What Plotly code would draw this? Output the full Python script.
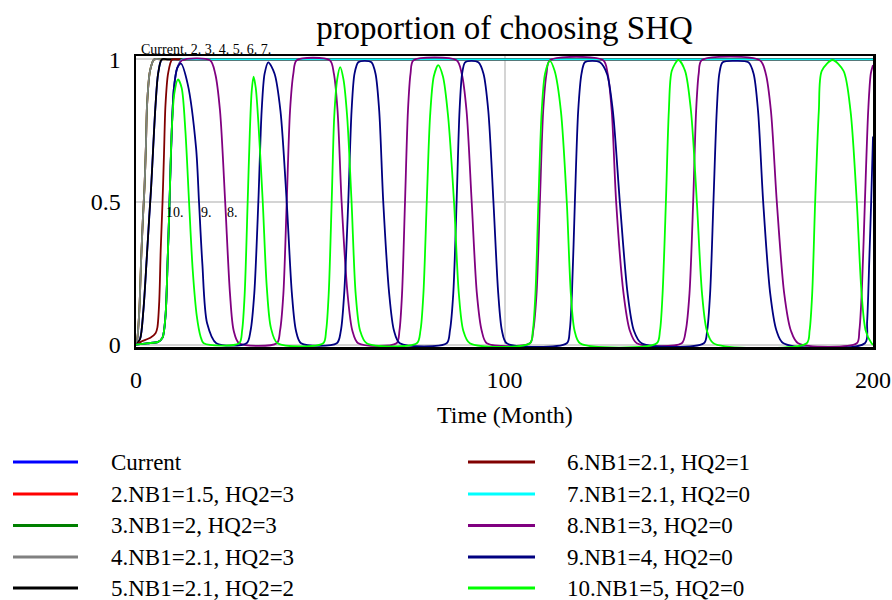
import plotly.graph_objects as go

# ---------------- text ----------------
title_text = "proportion of choosing SHQ"
x_title = "Time (Month)"
x_tickvals = [0, 100, 200]
x_ticktext = ["0", "100", "200"]
y_tickvals = [0, 0.5, 1]
y_ticktext = ["0", "0.5", "1"]

names = ["Current", "2.NB1=1.5, HQ2=3", "3.NB1=2, HQ2=3", "4.NB1=2.1, HQ2=3",
         "5.NB1=2.1, HQ2=2", "6.NB1=2.1, HQ2=1", "7.NB1=2.1, HQ2=0",
         "8.NB1=3, HQ2=0", "9.NB1=4, HQ2=0", "10.NB1=5, HQ2=0"]
colors = ["#0000FF", "#FF0000", "#008000", "#808080", "#000000",
          "#800000", "#00FFFF", "#800080", "#000080", "#00FF00"]

# ---------------- data ----------------
t_current = [0, 1.1, 2.0, 2.9, 3.6, 4.1, 4.7, 5.3, 6.0, 7.0, 9.0, 200]
v_current = [0, .02, .12, .3, .45, .55, .7, .84, .95, 1, 1, 1]

t_run2 = [0, .35, .9, 1.4, 1.9, 2.3, 2.7, 3.0, 3.8, 4.9, 7.0, 200]
v_run2 = [0, .02, .12, .3, .45, .55, .7, .84, .96, 1, 1, 1]

t_run3 = [0, .35, .9, 1.4, 1.9, 2.3, 2.7, 3.0, 3.8, 4.9, 7.0, 200]
v_run3 = [0, .02, .12, .3, .45, .55, .7, .84, .96, 1, 1, 1]

t_run4 = [0, .35, .9, 1.4, 1.9, 2.3, 2.7, 3.0, 3.8, 4.9, 7.0, 200]
v_run4 = [0, .02, .12, .3, .45, .55, .7, .84, .96, 1, 1, 1]

t_run5 = [0, 1.1, 2.0, 2.9, 3.6, 4.1, 4.7, 5.3, 6.0, 7.0, 9.0, 200]
v_run5 = [0, .02, .12, .3, .45, .55, .7, .84, .95, 1, 1, 1]

t_run6 = [0, 1.3, 4.0, 5.3, 5.8, 6.3, 6.7, 7.2, 7.6, 8.0, 8.7, 9.8, 11.5, 200]
v_run6 = [0, .01, .025, .04, .06, .15, .33, .5, .67, .84, .95, 1, 1, 1]

t_run7 = [0, 3, 6, 7.2, 8.0, 8.6, 9.1, 9.7, 10.3, 11.2, 12.5, 14.0, 200]
v_run7 = [0, .005, .01, .025, .1, .3, .5, .75, .9, .97, 1, 1, 1]

t_run8 = [0, 3, 6, 7.2, 8.0, 8.6, 9.1, 9.7, 10.3, 11.2, 12.5, 20.1, 21.5, 22.8, 24.2, 25.5, 26.5, 28.0,
          38.2, 39.1, 40.0, 40.9, 41.8, 42.7, 43.6, 52.6, 53.7, 54.7, 55.8, 57.4, 58.7, 60.3,
          70.7, 71.5, 72.2, 73.0, 73.8, 74.5, 75.3, 87.0, 88.4, 89.7, 91.1, 92.5, 93.8, 95.2,
          106.9, 107.8, 108.7, 109.6, 110.5, 111.4, 112.3, 126.8, 128.0, 129.1, 130.3, 132.3, 134.0, 135.9,
          148.1, 149.2, 150.2, 151.2, 152.0, 152.7, 153.5, 169.3, 170.9, 172.3, 173.9, 175.9, 177.7, 179.7,
          195.6, 196.3, 197.0, 197.8, 198.7, 199.4, 200]
v_run8 = [0, .005, .01, .025, .1, .3, .5, .75, .9, .97, .997, .997, .95, .82, .5, .18, .05, .005,
          .005, .05, .18, .5, .82, .95, .997, .997, .95, .82, .5, .18, .05, .005,
          .005, .05, .18, .5, .82, .95, .997, .997, .95, .82, .5, .18, .05, .005,
          .005, .05, .18, .5, .82, .95, .997, .997, .95, .82, .5, .18, .05, .005,
          .005, .05, .18, .5, .82, .95, .997, .997, .95, .82, .5, .18, .05, .005,
          .005, .05, .2, .5, .82, .95, .98]

t_run9 = [0, 3, 6, 7.2, 8.0, 8.6, 9.1, 9.7, 10.3, 11.2, 12.2, 14.0, 16.3, 17.1, 18.0, 19.3, 21.8,
          30.0, 31.1, 32.1, 33.2, 34.1, 34.9, 35.9, 37.6, 39.2, 40.9, 42.3, 43.4, 44.8,
          54.5, 55.6, 56.5, 57.6, 58.5, 59.3, 60.3, 62.0, 63.9, 65.0, 66.0, 67.1, 68.7, 70.0, 71.6,
          84.3, 85.2, 86.1, 87.0, 87.8, 88.5, 89.3, 91.0, 92.9, 94.3, 95.6, 97.0, 98.3, 99.3, 100.6,
          116.9, 117.7, 118.3, 119.1, 120.0, 120.9, 121.8, 123.8, 125.9, 127.8, 129.4, 131.3, 133.4, 135.1, 137.2,
          154.1, 155.0, 155.8, 156.7, 157.6, 158.3, 159.2, 162.5, 166.2, 167.6, 168.8, 170.2, 172.1, 173.8, 175.7,
          197.8, 198.4, 199.0, 199.5, 200]
v_run9 = [0, .005, .01, .025, .1, .3, .5, .75, .9, .97, .985, .915, .69, .5, .285, .075, .005,
          .005, .05, .18, .5, .82, .95, .99, .95, .82, .5, .18, .05, .005,
          .005, .05, .18, .5, .82, .95, .99, .995, .99, .95, .82, .5, .18, .05, .005,
          .005, .05, .18, .5, .82, .95, .99, .995, .99, .95, .82, .5, .18, .05, .005,
          .005, .05, .18, .5, .82, .95, .99, .995, .99, .95, .82, .5, .18, .05, .005,
          .005, .05, .18, .5, .82, .95, .99, .995, .99, .95, .82, .5, .18, .05, .005,
          .005, .08, .3, .5, .73]

t_run10 = [0, 3, 6, 7.2, 8.0, 8.6, 9.1, 9.7, 10.4, 11.4, 12.4, 13.4, 14.4, 15.4, 16.5, 17.5, 18.4,
           28.0, 28.8, 29.5, 30.3, 30.9, 31.4, 31.9, 32.5, 33.2, 34.4, 35.5, 36.6, 38.4,
           50.8, 51.6, 52.3, 53.1, 53.8, 54.6, 55.4, 56.3, 57.3, 58.5, 59.6, 60.8, 62.6,
           76.2, 77.2, 78.0, 78.9, 79.8, 80.8, 82.0, 83.3, 84.7, 86.3, 87.6, 88.8, 90.6,
           106.9, 107.7, 108.4, 109.2, 110.1, 111.0, 112.3, 113.6, 115.3, 116.9, 118.0, 119.0, 120.5,
           141.3, 142.2, 142.9, 143.8, 144.6, 145.4, 147.2, 149.0, 150.6, 152.2, 153.6, 154.9, 156.7,
           182.0, 182.8, 183.5, 184.3, 185.3, 186.1, 189.0, 192.0, 193.9, 195.6, 196.9, 198.0, 199.6, 200]
v_run10 = [0, .005, .01, .025, .1, .3, .5, .75, .88, .93, .9, .75, .5, .26, .1, .03, .005,
           .005, .05, .18, .5, .75, .89, .94, .9, .78, .5, .2, .06, .005,
           .005, .05, .18, .5, .8, .93, .973, .93, .8, .5, .18, .05, .005,
           .005, .05, .18, .5, .8, .94, .98, .94, .8, .5, .18, .05, .005,
           .005, .05, .18, .5, .82, .95, .995, .96, .82, .5, .18, .05, .005,
           .005, .05, .18, .5, .82, .96, .998, .96, .82, .5, .18, .05, .005,
           .005, .05, .18, .5, .82, .96, .998, .96, .82, .5, .18, .05, .005, 0]

series_t = [t_current, t_run2, t_run3, t_run4, t_run5, t_run6, t_run7, t_run8, t_run9, t_run10]
series_v = [v_current, v_run2, v_run3, v_run4, v_run5, v_run6, v_run7, v_run8, v_run9, v_run10]

# curve labels drawn by the original tool
top_label = "Current. 2. 3. 4. 5. 6. 7."
mid_labels = ["10.", "9.", "8."]

# ---------------- layout geometry (pixels) ----------------
W, H = 892, 600
ML, MR, MT, MB = 136, 19, 55.6, 253.2
PW = W - ML - MR
PH = H - MT - MB
FONT = "Liberation Serif, Times New Roman, serif"


def fx(px):
    return (px - ML) / PW


def fy(py):
    return (H - MB - py) / PH


fig = go.Figure()
for n, c, tt, vv in zip(names, colors, series_t, series_v):
    fig.add_trace(go.Scatter(x=tt, y=vv, mode="lines", name=n,
                             line=dict(color=c, width=1.8, shape="spline", smoothing=0.8),
                             showlegend=False, hoverinfo="skip"))

annotations = []
shapes = []

# axis title
annotations.append(dict(x=0.5, y=fy(415), xref="paper", yref="paper", text=x_title,
                        showarrow=False, xanchor="center", yanchor="middle",
                        font=dict(family=FONT, size=24, color="black")))
# curve labels
annotations.append(dict(x=fx(139), y=fy(49), xref="paper", yref="paper", text=top_label,
                        showarrow=False, xanchor="left", yanchor="middle",
                        font=dict(family=FONT, size=14, color="black")))
for lab, px in zip(mid_labels, [175, 206, 232.5]):
    annotations.append(dict(x=fx(px), y=fy(212), xref="paper", yref="paper", text=lab,
                            showarrow=False, xanchor="center", yanchor="middle",
                            font=dict(family=FONT, size=14, color="black")))

# legend (two columns, drawn manually)
row_y = [462, 494, 525.5, 557, 588]
for i, (n, c) in enumerate(zip(names, colors)):
    col, row = divmod(i, 5)
    y = row_y[row]
    lx0, lx1, tx = (13, 78, 109) if col == 0 else (468, 535, 565)
    shapes.append(dict(type="line", xref="paper", yref="paper",
                       x0=fx(lx0), x1=fx(lx1), y0=fy(y), y1=fy(y),
                       line=dict(color=c, width=3)))
    annotations.append(dict(x=fx(tx), y=fy(y), xref="paper", yref="paper", text=n,
                            showarrow=False, xanchor="left", yanchor="middle",
                            font=dict(family=FONT, size=23, color="black")))

fig.update_layout(
    width=W, height=H,
    margin=dict(l=ML, r=MR, t=MT, b=MB, pad=0),
    paper_bgcolor="white", plot_bgcolor="white",
    title=dict(text=title_text, x=0.5, xref="paper", xanchor="center",
               y=1 - 27 / H, yref="container", yanchor="middle",
               font=dict(family=FONT, size=33, color="black")),
    annotations=annotations,
    shapes=shapes,
    showlegend=False,
)
fig.update_xaxes(range=[0, 200], tickvals=x_tickvals, ticktext=x_ticktext,
                 showgrid=True, gridcolor="#d4d4d4", gridwidth=2, zeroline=False,
                 showline=True, linecolor="black", linewidth=2.5, mirror=True,
                 ticks="", ticklabelstandoff=10, automargin=False,
                 tickfont=dict(family=FONT, size=24, color="black"))
fig.update_yaxes(range=[-0.008, 1.012], tickvals=y_tickvals, ticktext=y_ticktext,
                 showgrid=True, gridcolor="#d4d4d4", gridwidth=2, zeroline=False,
                 showline=True, linecolor="black", linewidth=2.5, mirror=True,
                 ticks="", ticklabelstandoff=8, automargin=False,
                 tickfont=dict(family=FONT, size=24, color="black"))

fig.write_html("out.html",
               config={"displayModeBar": False, "staticPlot": True},
               post_script="document.body.style.margin='0px';document.body.style.overflow='hidden';")
